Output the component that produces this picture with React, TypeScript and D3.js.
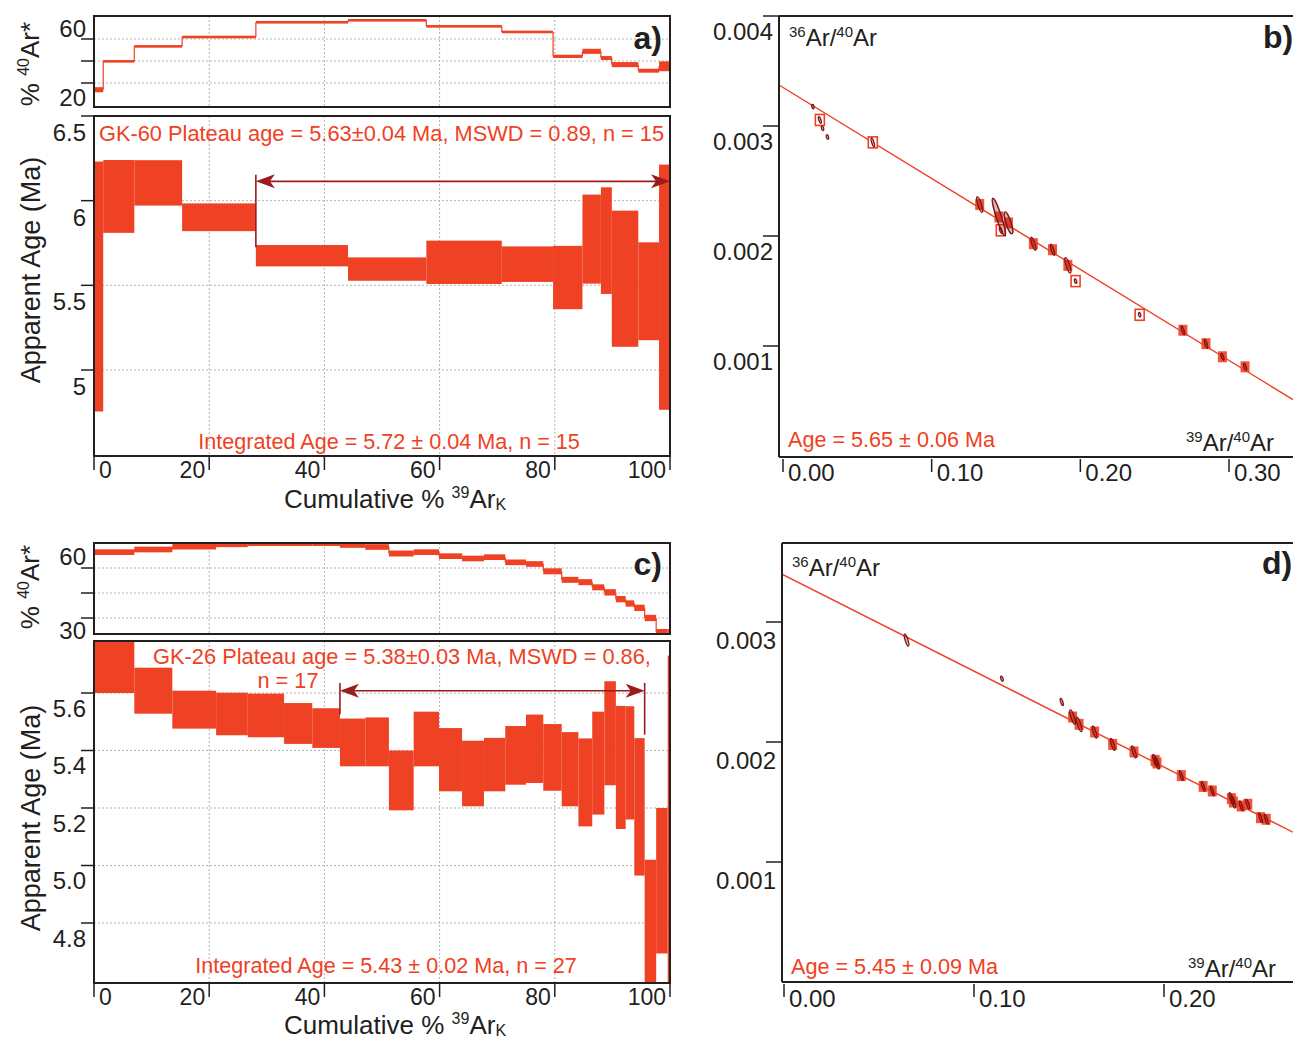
import * as d3 from 'd3';

const FONT = '"Liberation Sans", Arial, Helvetica, sans-serif';
const INK = '#231f20';
const RED = '#ef4123';
const ARROW = '#9b1b1e';
const ELL = '#7d1315';
const GRID = '#b3b3b3';

const PCT_TICKS = [0, 20, 40, 60, 80, 100];
const PCT_GRID = [20, 40, 60, 80];

// ---- GK-60 step heating (panel a) ----
const A_EDGES = [0, 1.6, 7.0, 15.3, 28.1, 44.1, 57.7, 70.8, 79.7, 84.8, 88.0, 89.9, 94.5, 98.1, 100];
const A_AGE = [5.493, 6.025, 6.105, 5.902, 5.675, 5.596, 5.636, 5.625, 5.546, 5.773, 5.764, 5.539, 5.465, 5.489];
const A_AGE_ERR = [0.738, 0.215, 0.134, 0.082, 0.063, 0.069, 0.128, 0.105, 0.187, 0.263, 0.315, 0.402, 0.289, 0.724];
const A_RAD = [13.9, 39.7, 53.3, 61.8, 75.2, 77.0, 71.5, 66.4, 44.2, 48.8, 42.7, 36.7, 31.2, 35.2];
const A_RAD_ERR = [2.3, 0.6, 0.6, 0.6, 0.6, 0.6, 0.6, 0.6, 1.5, 2.3, 1.8, 2.3, 1.8, 4.5];
const A_AGE_TICKS = [6.5, 6, 5.5, 5];
const A_RAD_TICKS = [60, 40, 20];
const A_PLATEAU: [number, number] = [28.1, 100];

// ---- GK-26 step heating (panel c) ----
const C_EDGES = [0, 7.0, 13.6, 21.2, 26.7, 33.0, 37.9, 42.7, 47.1, 51.2, 55.5, 59.9, 63.9, 67.7, 71.4, 75.0, 78.0, 81.2, 84.1, 86.5, 88.6, 90.6, 92.3, 93.8, 95.6, 97.6, 99.6, 100];
const C_AGE = [5.73, 5.608, 5.542, 5.527, 5.522, 5.494, 5.478, 5.428, 5.43, 5.296, 5.44, 5.368, 5.32, 5.351, 5.383, 5.406, 5.376, 5.335, 5.289, 5.356, 5.46, 5.341, 5.357, 5.204, 4.76, 4.947, 5.06];
const C_AGE_ERR = [0.13, 0.08, 0.066, 0.074, 0.076, 0.071, 0.069, 0.083, 0.085, 0.104, 0.095, 0.11, 0.114, 0.093, 0.102, 0.119, 0.116, 0.129, 0.153, 0.179, 0.181, 0.214, 0.197, 0.239, 0.26, 0.253, 0.67];
const C_RAD = [69.5, 71.1, 72.8, 74.2, 74.7, 74.7, 74.7, 73.8, 72.6, 68.7, 69.5, 67.1, 65.7, 66.5, 63.4, 62.4, 58.0, 52.9, 51.5, 48.4, 45.4, 41.3, 38.7, 36.1, 30.0, 21.5, 21.5];
const C_RAD_ERR = [1.7, 1.7, 1.7, 1.7, 1.5, 1.5, 1.5, 1.7, 1.7, 1.8, 1.7, 1.7, 1.7, 1.7, 1.7, 1.7, 1.8, 1.8, 1.8, 1.8, 1.9, 1.9, 1.9, 1.9, 1.9, 1.9, 1.9];
const C_AGE_TICKS = [5.6, 5.4, 5.2, 5.0, 4.8];
const C_RAD_TICKS = [60, 45, 30];
const C_PLATEAU: [number, number] = [42.7, 95.6];

// ---- GK-60 inverse isochron (panel b) ----
const B_X = [0.0201, 0.0248, 0.0266, 0.0299, 0.0604, 0.1323, 0.1452, 0.1465, 0.1517, 0.1684, 0.1813, 0.1916, 0.1968, 0.2399, 0.269, 0.2845, 0.2956, 0.3108];
const B_Y = [0.003176, 0.003055, 0.002979, 0.0029, 0.002851, 0.002286, 0.002173, 0.002052, 0.002119, 0.00193, 0.001875, 0.001733, 0.00159, 0.001284, 0.001143, 0.001021, 0.000902, 0.000811];
const B_Y_ERR = [0.00002, 0.00003, 0.00002, 0.00002, 0.00004, 0.00007, 0.00017, 0.00003, 0.0001, 0.00006, 0.00005, 0.00007, 0.00002, 0.00002, 0.00004, 0.00004, 0.00003, 0.00003];
const B_MARK = ['none', 'open', 'none', 'none', 'open', 'filled', 'filled', 'open', 'filled', 'filled', 'filled', 'filled', 'open', 'open', 'filled', 'filled', 'filled', 'filled'];
const B_TRAPPED = 0.00335; // 36Ar/40Ar intercept
const B_X_INT = 0.405; // 39Ar/40Ar intercept
const B_X_TICKS = [0, 0.1, 0.2, 0.3];
const B_Y_TICKS = [0.004, 0.003, 0.002, 0.001];

// ---- GK-26 inverse isochron (panel d) ----
const D_X = [0.0645, 0.1147, 0.1462, 0.1519, 0.1553, 0.1635, 0.173, 0.1842, 0.1953, 0.1963, 0.2091, 0.2206, 0.2254, 0.2355, 0.2365, 0.2406, 0.2441, 0.2508, 0.2538];
const D_Y = [0.00285, 0.002528, 0.002333, 0.002208, 0.002147, 0.002083, 0.00198, 0.001917, 0.001847, 0.001825, 0.00172, 0.00163, 0.001592, 0.001528, 0.0015, 0.001467, 0.001481, 0.001369, 0.001356];
const D_Y_ERR = [0.00005, 0.00002, 0.00003, 0.00006, 0.00006, 0.00005, 0.00005, 0.00005, 0.00005, 0.00005, 0.00004, 0.00004, 0.00004, 0.00005, 0.00005, 0.00004, 0.00004, 0.00004, 0.00004];
const D_MARK = ['none', 'none', 'none', 'filled', 'filled', 'filled', 'filled', 'filled', 'filled', 'filled', 'filled', 'filled', 'filled', 'filled', 'filled', 'filled', 'filled', 'filled', 'filled'];
const D_TRAPPED = 0.00339;
const D_X_INT = 0.424;
const D_X_TICKS = [0, 0.1, 0.2];
const D_Y_TICKS = [0.003, 0.002, 0.001];

const X0 = 94;
const X1 = 670;

function Sup({ children, size = 16, up = 10 }: any) {
  return <tspan fontSize={size} dy={-up}>{children}</tspan>;
}

function Spectrum({ c }: { c: any }) {
  const x = d3.scaleLinear().domain([0, 100]).range([X0, X1]);
  const yr = d3.scaleLinear().domain(c.radDomain).range(c.radRange);
  const ya = d3.scaleLinear().domain(c.ageDomain).range(c.ageRange);
  const [rt, rb] = c.radFrame;
  const [at, ab] = c.ageFrame;
  const idx = d3.range(c.age.length);
  const rTop = c.radTicks[0];
  const rBot = c.radTicks[c.radTicks.length - 1];
  const ay = ya(c.arrowAge);
  const xl = x(c.plateau[0]);
  const xr = x(c.plateau[1]);
  return (
    <g>
      <defs>
        <clipPath id={c.id + 'r'}><rect x={X0} y={rt} width={X1 - X0} height={rb - rt} /></clipPath>
        <clipPath id={c.id + 'a'}><rect x={X0} y={at} width={X1 - X0} height={ab - at} /></clipPath>
      </defs>
      {/* grid */}
      {PCT_GRID.map((v) => (
        <g key={'g' + v}>
          <line x1={x(v)} x2={x(v)} y1={rt} y2={rb} stroke={GRID} strokeDasharray="2,2" />
          <line x1={x(v)} x2={x(v)} y1={at} y2={ab} stroke={GRID} strokeDasharray="2,2" />
        </g>
      ))}
      {c.radTicks.map((v: number) => (
        <line key={'rg' + v} x1={X0} x2={X1} y1={yr(v)} y2={yr(v)} stroke={GRID} strokeDasharray="2,2" />
      ))}
      {c.ageTicks.filter((v: number) => ya(v) > at + 3).map((v: number) => (
        <line key={'ag' + v} x1={X0} x2={X1} y1={ya(v)} y2={ya(v)} stroke={GRID} strokeDasharray="2,2" />
      ))}

      {/* % radiogenic steps */}
      <g clipPath={`url(#${c.id}r)`}>
        {idx.slice(1).map((i) => (
          <line key={'rs' + i} x1={x(c.edges[i])} x2={x(c.edges[i])} y1={yr(c.rad[i - 1])} y2={yr(c.rad[i])} stroke={RED} strokeWidth={1.2} />
        ))}
        {idx.map((i) => {
          const y0 = yr(c.rad[i] + c.radErr[i]);
          const y1 = yr(c.rad[i] - c.radErr[i]);
          const h = Math.max(2.6, y1 - y0);
          const cy = (y0 + y1) / 2;
          return <rect key={'r' + i} x={x(c.edges[i])} y={cy - h / 2} width={x(c.edges[i + 1]) - x(c.edges[i])} height={h} fill={RED} />;
        })}
      </g>

      {/* age spectrum boxes */}
      <g clipPath={`url(#${c.id}a)`}>
        {idx.map((i) => (
          <rect key={'a' + i} x={x(c.edges[i])} y={ya(c.age[i] + c.ageErr[i])}
            width={x(c.edges[i + 1]) - x(c.edges[i])}
            height={ya(c.age[i] - c.ageErr[i]) - ya(c.age[i] + c.ageErr[i])} fill={RED} />
        ))}
      </g>

      {/* plateau arrow */}
      <line x1={xl} x2={xl} y1={ya(c.leftBar[0])} y2={ya(c.leftBar[1])} stroke={ARROW} strokeWidth={1.6} />
      {c.rightBar && <line x1={xr} x2={xr} y1={ya(c.rightBar[0])} y2={ya(c.rightBar[1])} stroke={ARROW} strokeWidth={1.6} />}
      <line x1={xl + 4} x2={xr - 4} y1={ay} y2={ay} stroke={ARROW} strokeWidth={1.6} />
      <path d={`M${xl},${ay} L${xl + 19},${ay - 7} L${xl + 14},${ay} L${xl + 19},${ay + 7} Z`} fill={ARROW} />
      <path d={`M${xr},${ay} L${xr - 19},${ay - 7} L${xr - 14},${ay} L${xr - 19},${ay + 7} Z`} fill={ARROW} />

      {/* frames */}
      <rect x={X0} y={rt} width={X1 - X0} height={rb - rt} fill="none" stroke={INK} strokeWidth={2} />
      <rect x={X0} y={at} width={X1 - X0} height={ab - at} fill="none" stroke={INK} strokeWidth={2} />

      {/* y ticks: % 40Ar* */}
      {c.radTicks.map((v: number) => (
        <line key={'rt' + v} x1={X0 - 13} x2={X0} y1={yr(v)} y2={yr(v)} stroke={INK} strokeWidth={1.5} />
      ))}
      <text x={86} y={yr(rTop) + c.radLabelDy[0]} textAnchor="end" fontSize={24} fill={INK}>{rTop}</text>
      <text x={86} y={yr(rBot) + c.radLabelDy[1]} textAnchor="end" fontSize={24} fill={INK}>{rBot}</text>

      {/* y ticks: age */}
      {c.ageTicks.map((v: number) => (
        <g key={'at' + v}>
          <line x1={X0 - 13} x2={X0} y1={ya(v)} y2={ya(v)} stroke={INK} strokeWidth={1.5} />
          <text x={86} y={ya(v) + c.ageLabelDy} textAnchor="end" fontSize={24} fill={INK}>{c.ageFmt(v)}</text>
        </g>
      ))}

      {/* x axis */}
      {PCT_TICKS.map((v) => (
        <g key={'xt' + v}>
          <line x1={x(v)} x2={x(v)} y1={ab} y2={ab + 14} stroke={INK} strokeWidth={1.5} />
          <text x={v === 0 ? x(v) + 5 : x(v) - 4} y={ab + 22} textAnchor={v === 0 ? 'start' : 'end'} fontSize={23} fill={INK}>{v}</text>
        </g>
      ))}
      <text x={395} y={ab + c.xTitleDy} textAnchor="middle" fontSize={26} fill={INK}>
        Cumulative % <Sup>39</Sup><tspan dy={10}>Ar</tspan><tspan fontSize={16} dy={2}>K</tspan>
      </text>

      {/* axis titles */}
      <text transform={`translate(39,${c.radTitleY}) rotate(-90)`} textAnchor="middle" fontSize={26} fill={INK}>
        % <Sup>40</Sup><tspan dy={10}>Ar*</tspan>
      </text>
      <text transform={`translate(40,${c.ageTitleY}) rotate(-90)`} textAnchor="middle" fontSize={27} fill={INK}>
        Apparent Age (Ma)
      </text>

      {/* annotations */}
      {c.plateauText.map((t: any, i: number) => (
        <text key={'pt' + i} x={t.x} y={t.y} textAnchor={t.anchor} fontSize={21.8} fill={RED}>{t.s}</text>
      ))}
      <text x={c.integrated.x} y={c.integrated.y} textAnchor="middle" fontSize={21.6} fill={RED}>{c.integrated.s}</text>
      <text x={662} y={c.tagY} textAnchor="end" fontSize={32} fontWeight="bold" fill={INK}>{c.tag}</text>
    </g>
  );
}

function ArRatio({ a, b, x, y, size = 24, anchor = 'start' }: any) {
  return (
    <text x={x} y={y} fontSize={size} fill={INK} textAnchor={anchor}>
      <Sup size={15} up={9}>{a}</Sup><tspan dy={9}>Ar/</tspan><Sup size={15} up={9}>{b}</Sup><tspan dy={9}>Ar</tspan>
    </text>
  );
}

function Isochron({ c }: { c: any }) {
  const x = d3.scaleLinear().domain(c.xDomain).range(c.xRange);
  const y = d3.scaleLinear().domain(c.yDomain).range(c.yRange);
  const { left, right, top, bottom } = c.frame;
  const lx0 = x.invert(left);
  const lx1 = x.invert(right);
  const fit = (v: number) => c.trapped * (1 - v / c.xInt);
  const ang = 72;
  const sin = Math.sin((ang * Math.PI) / 180);
  const fmtY = d3.format('.3f');
  const fmtX = d3.format('.2f');
  return (
    <g>
      <defs>
        <clipPath id={c.id + 'p'}><rect x={left} y={top} width={right - left} height={bottom - top} /></clipPath>
      </defs>
      <g clipPath={`url(#${c.id}p)`}>
        <line x1={x(lx0)} y1={y(fit(lx0))} x2={x(lx1)} y2={y(fit(lx1))} stroke={RED} strokeWidth={1.4} />
        {c.xs.map((v: number, i: number) => {
          if (c.marks[i] === 'none') return null;
          const open = c.marks[i] === 'open';
          return (
            <rect key={'s' + i} x={x(v) - 4.5} y={y(c.ys[i]) - 5.5} width={9} height={11}
              fill={open ? '#fff' : RED} stroke={RED} strokeWidth={open ? 1.6 : 0} opacity={open ? 1 : 0.9} />
          );
        })}
        {c.xs.map((v: number, i: number) => {
          const L = Math.max(2.2, Math.abs(y(c.ys[i] + c.yErr[i]) - y(c.ys[i])) / sin);
          const r2 = Math.min(2.6, Math.max(1.1, L * 0.22));
          return (
            <ellipse key={'e' + i} cx={x(v)} cy={y(c.ys[i])} rx={L} ry={r2}
              transform={`rotate(${ang},${x(v)},${y(c.ys[i])})`}
              fill={ELL} fillOpacity={0.3} stroke={ELL} strokeWidth={1.3} />
          );
        })}
      </g>

      {/* axes */}
      <line x1={left} x2={right} y1={top} y2={top} stroke={INK} strokeWidth={2} />
      <line x1={left} x2={left} y1={top} y2={bottom} stroke={INK} strokeWidth={2} />
      <line x1={left} x2={right} y1={bottom} y2={bottom} stroke={INK} strokeWidth={2} />
      {c.yTicks.map((v: number) => (
        <g key={'yt' + v}>
          <line x1={left - 16} x2={left} y1={y(v)} y2={y(v)} stroke={INK} strokeWidth={1.5} />
          <text x={left - 6} y={y(v) + c.yLabelDy} textAnchor="end" fontSize={24} fill={INK}>{fmtY(v)}</text>
        </g>
      ))}
      {c.xTicks.map((v: number) => (
        <g key={'xt' + v}>
          <line x1={x(v)} x2={x(v)} y1={bottom + 2} y2={bottom + 15} stroke={INK} strokeWidth={1.5} />
          <text x={x(v) + 5} y={c.xLabelY} fontSize={24} fill={INK}>{fmtX(v)}</text>
        </g>
      ))}
      <ArRatio a="36" b="40" x={c.yTitle[0]} y={c.yTitle[1]} />
      <ArRatio a="39" b="40" x={c.xTitle[0]} y={c.xTitle[1]} />
      <text x={c.ageText.x} y={c.ageText.y} fontSize={21.6} fill={RED}>{c.ageText.s}</text>
      <text x={c.tag[1]} y={c.tag[2]} fontSize={32} fontWeight="bold" fill={INK}>{c.tag[0]}</text>
    </g>
  );
}

const A_CFG = {
  id: 'sa', tag: 'a)', tagY: 49,
  edges: A_EDGES, age: A_AGE, ageErr: A_AGE_ERR, rad: A_RAD, radErr: A_RAD_ERR,
  radTicks: A_RAD_TICKS, radDomain: [20, 60], radRange: [83, 39], radFrame: [16, 107], radLabelDy: [-2.5, 22.5],
  ageTicks: A_AGE_TICKS, ageDomain: [5, 6.5], ageRange: [370, 116], ageFrame: [116, 456], ageLabelDy: 25,
  ageFmt: (v: number) => String(v),
  plateau: A_PLATEAU, arrowAge: 6.114, leftBar: [6.153, 5.725], rightBar: null,
  plateauText: [{ s: 'GK-60 Plateau age = 5.63±0.04 Ma, MSWD = 0.89, n = 15', x: 99, y: 141, anchor: 'start' }],
  integrated: { s: 'Integrated Age = 5.72 ± 0.04 Ma, n = 15', x: 389, y: 449 },
  radTitleY: 64, ageTitleY: 270, xTitleDy: 52,
};

const C_CFG = {
  id: 'sc', tag: 'c)', tagY: 575,
  edges: C_EDGES, age: C_AGE, ageErr: C_AGE_ERR, rad: C_RAD, radErr: C_RAD_ERR,
  radTicks: C_RAD_TICKS, radDomain: [30, 60], radRange: [618, 568], radFrame: [543, 634], radLabelDy: [-3.5, 20.5],
  ageTicks: C_AGE_TICKS, ageDomain: [4.8, 5.6], ageRange: [923, 693], ageFrame: [641, 983], ageLabelDy: 23.5,
  ageFmt: d3.format('.1f'),
  plateau: C_PLATEAU, arrowAge: 5.608, leftBar: [5.635, 5.525], rightBar: [5.635, 5.455],
  plateauText: [
    { s: 'GK-26 Plateau age = 5.38±0.03 Ma, MSWD = 0.86,', x: 402, y: 664, anchor: 'middle' },
    { s: 'n = 17', x: 288, y: 688, anchor: 'middle' },
  ],
  integrated: { s: 'Integrated Age = 5.43 ± 0.02 Ma, n = 27', x: 386, y: 973 },
  radTitleY: 587, ageTitleY: 818, xTitleDy: 51,
};

const B_CFG = {
  id: 'ib', xs: B_X, ys: B_Y, yErr: B_Y_ERR, marks: B_MARK, trapped: B_TRAPPED, xInt: B_X_INT,
  xDomain: [0, 0.3], xRange: [783, 1229], yDomain: [0, 0.004], yRange: [456, 16],
  frame: { left: 779, right: 1293, top: 16, bottom: 457 },
  xTicks: B_X_TICKS, yTicks: B_Y_TICKS, yLabelDy: 23.5, xLabelY: 481,
  yTitle: [789, 46], xTitle: [1186, 451],
  ageText: { s: 'Age = 5.65 ± 0.06 Ma', x: 788, y: 447 },
  tag: ['b)', 1263, 48],
};

const D_CFG = {
  id: 'id', xs: D_X, ys: D_Y, yErr: D_Y_ERR, marks: D_MARK, trapped: D_TRAPPED, xInt: D_X_INT,
  xDomain: [0, 0.2], xRange: [784, 1164], yDomain: [0, 0.003], yRange: [982, 622],
  frame: { left: 782, right: 1293, top: 543, bottom: 982 },
  xTicks: D_X_TICKS, yTicks: D_Y_TICKS, yLabelDy: 26.5, xLabelY: 1007,
  yTitle: [792, 576], xTitle: [1188, 977],
  ageText: { s: 'Age = 5.45 ± 0.09 Ma', x: 791, y: 974 },
  tag: ['d)', 1262, 574],
};

export default function App() {
  return (
    <svg width={1293} height={1040} fontFamily={FONT}
      style={{ position: 'absolute', left: 0, top: 0, background: '#fff' }}>
      <rect width={1293} height={1040} fill="#fff" />
      <Spectrum c={A_CFG} />
      <Spectrum c={C_CFG} />
      <Isochron c={B_CFG} />
      <Isochron c={D_CFG} />
    </svg>
  );
}
